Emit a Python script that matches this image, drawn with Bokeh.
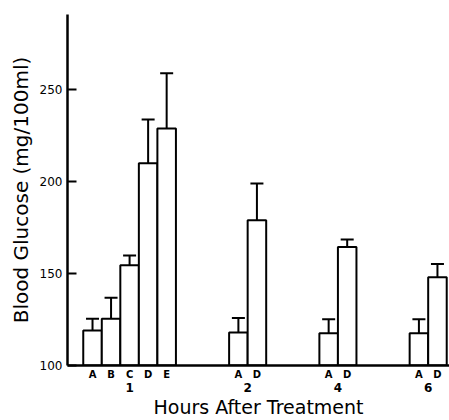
from bokeh.plotting import figure
from bokeh.models import (FixedTicker, LinearAxis, Range1d, ColumnDataSource,
                          Whisker, TeeHead, CustomJSTickFormatter)
from bokeh.embed import file_html
from bokeh.resources import INLINE

# ---- data ----
hours = ["1", "2", "4", "6"]
treatments = [["A", "B", "C", "D", "E"], ["A", "D"], ["A", "D"], ["A", "D"]]
glucose_mean = [[119, 125.5, 154.5, 210, 229], [118, 179], [117.5, 164.5], [117.5, 148]]
glucose_err = [[6.5, 11.3, 5.3, 23.8, 30], [7.8, 20], [7.7, 4], [7.7, 7.3]]
y_ticks = [100, 150, 200, 250]

# ---- layout constants (bar-width units) ----
LEAD = 0.85
GAP = 2.87

xs, tops, uppers, letters = [], [], [], []
group_centers = []
pos = LEAD
for h, trs, ms, es in zip(hours, treatments, glucose_mean, glucose_err):
    start = pos
    for t, m, e in zip(trs, ms, es):
        xs.append(pos + 0.5)
        tops.append(m)
        uppers.append(m + e)
        letters.append(t)
        pos += 1
    group_centers.append((start + pos) / 2)
    pos += GAP
x_end = pos - GAP + 0.15

FONT = "DejaVu Sans"
INK = "black"

p = figure(width=449, height=420, output_backend="svg", toolbar_location=None,
           x_range=Range1d(0, x_end), y_range=Range1d(100, 291),
           x_axis_type=None, y_axis_type=None,
           min_border_left=67, min_border_right=0, min_border_top=14,
           min_border_bottom=55)
p.outline_line_color = None
p.xgrid.visible = False
p.ygrid.visible = False
p.background_fill_color = "white"
p.border_fill_color = "white"

src = ColumnDataSource(dict(x=xs, top=tops, upper=uppers))
p.vbar(x="x", width=1, top="top", bottom=100, source=src,
       fill_color="white", line_color=INK, line_width=2)
p.add_layout(Whisker(base="x", lower="top", upper="upper", source=src,
                     line_color=INK, line_width=2, lower_head=None,
                     upper_head=TeeHead(size=13, line_color=INK, line_width=2)))

# y axis
yax = LinearAxis(ticker=FixedTicker(ticks=y_ticks, minor_ticks=[]),
                 axis_label="Blood Glucose (mg/100ml)")
yax.axis_line_width = 2.5
yax.axis_line_color = INK
yax.major_tick_in = 9
yax.major_tick_out = 0
yax.major_tick_line_width = 2
yax.major_tick_line_color = INK
yax.minor_tick_line_color = None
yax.major_label_text_font = FONT
yax.major_label_text_font_size = "12px"
yax.major_label_text_color = INK
yax.major_label_standoff = 5
yax.axis_label_text_font = FONT
yax.axis_label_text_font_size = "20px"
yax.axis_label_text_font_style = "normal"
yax.axis_label_text_color = INK
yax.axis_label_standoff = 4
p.add_layout(yax, "left")

# x axis: treatment letters
xax = LinearAxis(ticker=FixedTicker(ticks=xs, minor_ticks=[]),
                 formatter=CustomJSTickFormatter(args=dict(labels=letters),
                                                 code="return labels[index];"))
xax.axis_line_width = 2.5
xax.axis_line_color = INK
xax.major_tick_line_color = None
xax.major_tick_in = 0
xax.major_tick_out = 0
xax.minor_tick_line_color = None
xax.major_label_text_font = FONT
xax.major_label_text_font_size = "10px"
xax.major_label_text_font_style = "bold"
xax.major_label_text_color = INK
xax.major_label_standoff = 3
p.add_layout(xax, "below")

# x axis: hours groups
gax = LinearAxis(ticker=FixedTicker(ticks=group_centers, minor_ticks=[]),
                 formatter=CustomJSTickFormatter(args=dict(labels=hours),
                                                 code="return labels[index];"),
                 axis_label="Hours After Treatment")
gax.axis_line_color = None
gax.major_tick_line_color = None
gax.major_tick_in = 0
gax.major_tick_out = 0
gax.minor_tick_line_color = None
gax.major_label_text_font = FONT
gax.major_label_text_font_size = "12px"
gax.major_label_text_font_style = "bold"
gax.major_label_text_color = INK
gax.major_label_standoff = 0
gax.axis_label_text_font = FONT
gax.axis_label_text_font_size = "19px"
gax.axis_label_text_font_style = "normal"
gax.axis_label_text_color = INK
gax.axis_label_standoff = 1
p.add_layout(gax, "below")

open("out.html", "w").write(file_html(p, INLINE))
